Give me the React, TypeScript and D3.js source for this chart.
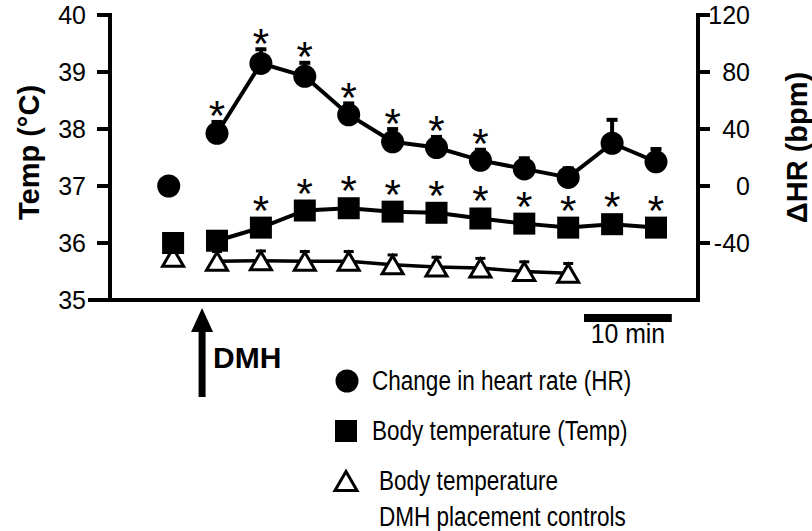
import React from 'react';
import * as d3 from 'd3';

// ---- data ----
const postTimes = [5, 10, 15, 20, 25, 30, 35, 40, 45, 50, 55];
const hrBaselineTime = -0.5;
const hrBaseline = 0;
const hrValues = [37, 86, 77, 50, 31, 27, 18, 12, 6, 30, 17];
const hrErrors = [9, 11, 10.5, 9, 10, 8.5, 8.5, 8.5, 7.5, 17.5, 10];
const hrSig = [true, true, true, true, true, true, true, false, false, false, false];

const tempBaselineTime = 0;
const tempBaseline = 36.0;
const tempValues = [36.04, 36.27, 36.57, 36.61, 36.55, 36.53, 36.43, 36.34, 36.27, 36.33, 36.27];
const tempSig = [false, true, true, true, true, true, true, true, true, true, true];

const ctrlBaselineTime = 0;
const ctrlBaseline = 35.75;
const ctrlTimes = [5, 10, 15, 20, 25, 30, 35, 40, 45];
const ctrlValues = [35.68, 35.69, 35.68, 35.68, 35.62, 35.58, 35.56, 35.5, 35.47];
const ctrlErrors = [0.17, 0.17, 0.17, 0.17, 0.17, 0.17, 0.17, 0.17, 0.17];

const tempTicks = [35, 36, 37, 38, 39, 40];
const hrTicks = [-40, 0, 40, 80, 120];
const injectionTime = 3.3;
const scaleBarStart = 46.8;
const scaleBarMinutes = 10;

const legendItems = ['Change in heart rate (HR)', 'Body temperature (Temp)'];
const legendCtrl = ['Body temperature', 'DMH placement controls'];

const FONT = "'Liberation Sans', Arial, Helvetica, sans-serif";

export default function App() {
  const x = d3.scaleLinear().domain([5, 55]).range([217, 656]);
  const yT = d3.scaleLinear().domain([35, 40]).range([300, 15]);
  const yH = d3.scaleLinear().domain([-80, 120]).range([300, 15]);

  const axisLeftX = 110;
  const axisRightX = 698;
  const axisY = yT(35);

  const hrLine = d3.line<number>().x((_, i) => x(postTimes[i])).y((d) => yH(d));
  const tLine = d3.line<number>().x((_, i) => x(postTimes[i])).y((d) => yT(d));
  const cLine = d3.line<number>().x((_, i) => x(ctrlTimes[i])).y((d) => yT(d));

  const R = 11.5;
  const SQ = 22;
  const tri = (cx: number, cy: number, hw = 10.5, hh = 9) =>
    `M${cx},${cy - hh}L${cx + hw},${cy + hh}L${cx - hw},${cy + hh}Z`;

  const ast = (cx: number, cy: number, key: string) => (
    <text key={key} x={cx} y={cy + 24} textAnchor="middle" fontSize={42} fontFamily={FONT}>*</text>
  );

  const sbX0 = x(scaleBarStart);
  const sbX1 = x(scaleBarStart + scaleBarMinutes);
  const arrowX = x(injectionTime);

  return (
    <svg width={812} height={531} style={{ position: 'absolute', left: 0, top: 0, background: '#fff' }}>
      <rect width={812} height={531} fill="#fff" />
      {/* axes */}
      <g stroke="#000" strokeWidth={4} fill="none">
        <line x1={axisLeftX} y1={yT(40) - 2} x2={axisLeftX} y2={axisY + 2} />
        <line x1={88} y1={axisY} x2={axisRightX + 2} y2={axisY} />
        <line x1={axisRightX} y1={yH(120) - 2} x2={axisRightX} y2={axisY + 2} />
        {tempTicks.filter((t) => t !== 35).map((t) => (
          <line key={t} x1={97} x2={axisLeftX} y1={yT(t)} y2={yT(t)} />
        ))}
        {hrTicks.map((t) => (
          <line key={t} x1={axisRightX} x2={710} y1={yH(t)} y2={yH(t)} />
        ))}
      </g>
      <g fontFamily={FONT} fontSize={25} fill="#000">
        {tempTicks.map((t) => (
          <text key={t} x={86} y={yT(t)} dy="0.35em" textAnchor="end">{t}</text>
        ))}
        {hrTicks.map((t) => (
          <text key={t} x={750} y={yH(t)} dy="0.35em" textAnchor="end">{t}</text>
        ))}
      </g>
      <text transform={`translate(29,${(yT(40) + yT(35)) / 2 - 5}) rotate(-90)`} textAnchor="middle" dominantBaseline="central"
        fontFamily={FONT} fontWeight="bold" fontSize={29}>Temp (°C)</text>
      <text transform={`translate(797,${(yT(40) + yT(35)) / 2 - 10}) rotate(-90)`} textAnchor="middle" dominantBaseline="central"
        fontFamily={FONT} fontWeight="bold" fontSize={29}>ΔHR (bpm)</text>

      {/* control triangles */}
      <g stroke="#000" strokeWidth={3}>
        {ctrlValues.map((v, i) => (
          <g key={i}>
            <line x1={x(ctrlTimes[i])} x2={x(ctrlTimes[i])} y1={yT(v)} y2={yT(v + ctrlErrors[i])} />
            <line x1={x(ctrlTimes[i]) - 5} x2={x(ctrlTimes[i]) + 5} y1={yT(v + ctrlErrors[i])} y2={yT(v + ctrlErrors[i])} />
          </g>
        ))}
      </g>
      <path d={cLine(ctrlValues) || ''} fill="none" stroke="#000" strokeWidth={3.5} />
      {ctrlValues.map((v, i) => (
        <path key={i} d={tri(x(ctrlTimes[i]), yT(v))} fill="#fff" stroke="#000" strokeWidth={3} />
      ))}
      <path d={tri(x(ctrlBaselineTime), yT(ctrlBaseline))} fill="#fff" stroke="#000" strokeWidth={3} />

      {/* temperature squares */}
      <path d={tLine(tempValues) || ''} fill="none" stroke="#000" strokeWidth={4} />
      {tempValues.map((v, i) => (
        <rect key={i} x={x(postTimes[i]) - SQ / 2} y={yT(v) - SQ / 2} width={SQ} height={SQ} fill="#000" />
      ))}
      <rect x={x(tempBaselineTime) - SQ / 2} y={yT(tempBaseline) - SQ / 2} width={SQ} height={SQ} fill="#000" />
      {tempValues.map((v, i) => (tempSig[i] ? ast(x(postTimes[i]), yT(v) - 27, 't' + i) : null))}

      {/* heart rate circles */}
      <g stroke="#000">
        {hrValues.map((v, i) => (
          <g key={i}>
            <line x1={x(postTimes[i])} x2={x(postTimes[i])} y1={yH(v)} y2={yH(v + hrErrors[i])} strokeWidth={4} />
            <line x1={x(postTimes[i]) - 5.5} x2={x(postTimes[i]) + 5.5} y1={yH(v + hrErrors[i]) + 1.5} y2={yH(v + hrErrors[i]) + 1.5} strokeWidth={4} />
          </g>
        ))}
      </g>
      <path d={hrLine(hrValues) || ''} fill="none" stroke="#000" strokeWidth={4} />
      {hrValues.map((v, i) => (
        <circle key={i} cx={x(postTimes[i])} cy={yH(v)} r={R} fill="#000" />
      ))}
      <circle cx={x(hrBaselineTime)} cy={yH(hrBaseline)} r={R} fill="#000" />
      {hrValues.map((v, i) => (hrSig[i] ? ast(x(postTimes[i]), yH(v + hrErrors[i]) - 14, 'h' + i) : null))}

      {/* injection arrow */}
      <line x1={arrowX} x2={arrowX} y1={330} y2={397} stroke="#000" strokeWidth={7} />
      <path d={`M${arrowX},308L${arrowX + 11},332L${arrowX - 11},332Z`} fill="#000" />
      <text x={213} y={357} dy="0.35em" fontFamily={FONT} fontWeight="bold" fontSize={30}>DMH</text>

      {/* scale bar */}
      <line x1={sbX0} x2={sbX1} y1={318} y2={318} stroke="#000" strokeWidth={8} />
      <text transform={`translate(${(sbX0 + sbX1) / 2},334) scale(0.92,1)`} dy="0.35em" textAnchor="middle" fontFamily={FONT} fontSize={27}>10 min</text>

      {/* legend */}
      <circle cx={347} cy={381} r={R} fill="#000" />
      <rect x={346 - SQ / 2} y={431 - SQ / 2} width={SQ} height={SQ} fill="#000" />
      <path d={tri(346, 481, 11, 9.5)} fill="#fff" stroke="#000" strokeWidth={3} />
      <g fontFamily={FONT} fontSize={27}>
        <text transform="translate(372,381) scale(0.835,1)" dy="0.35em">{legendItems[0]}</text>
        <text transform="translate(372,431) scale(0.835,1)" dy="0.35em">{legendItems[1]}</text>
        <text transform="translate(379,481) scale(0.835,1)" dy="0.35em">{legendCtrl[0]}</text>
        <text transform="translate(379,517) scale(0.835,1)" dy="0.35em">{legendCtrl[1]}</text>
      </g>
    </svg>
  );
}
